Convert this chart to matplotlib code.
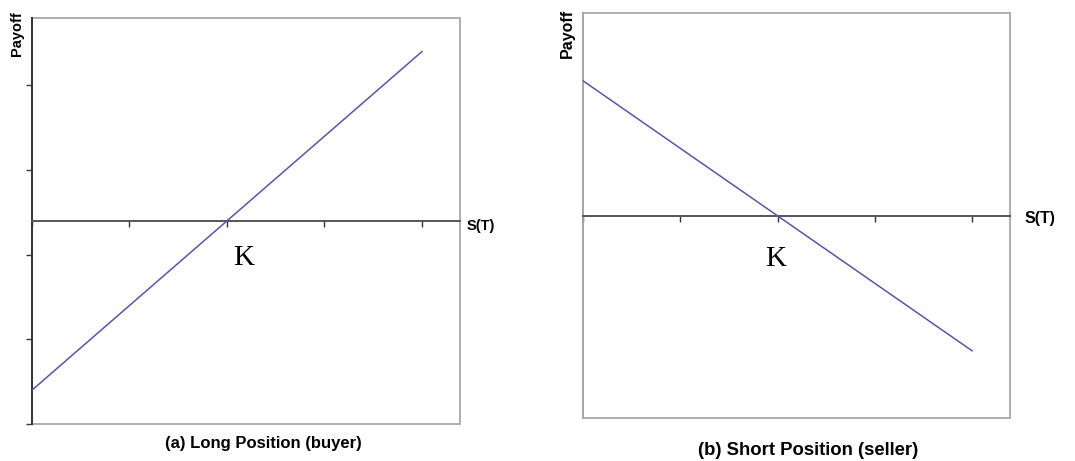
import matplotlib
matplotlib.use("Agg")
import matplotlib.pyplot as plt
from matplotlib.patches import Rectangle

# payoff diagrams for a forward contract, long vs short
strike = 2
spot = [0, 4]
long_payoff = [-2, 2]
short_payoff = [2, -2]
x_ticks = [0, 1, 2, 3, 4]
long_y_ticks = [-2.4, -1.4, -0.4, 0.6, 1.6]

line_col = "#5656a8"
W, H = 1075, 461

plt.rcParams['font.family'] = ['Liberation Sans', 'DejaVu Sans']
fig = plt.figure(figsize=(W / 100, H / 100), dpi=100)


def px_axes(left, top, right, bottom):
    # axes placed by pixel box
    return fig.add_axes([left / W, 1 - bottom / H, (right - left) / W, (bottom - top) / H])


def setup(ax, ylim):
    ax.set_xlim(0, 4.39)
    ax.set_ylim(*ylim)
    ax.spines['bottom'].set_position(('data', 0))
    ax.spines['bottom'].set_color("#555555")
    ax.spines['bottom'].set_linewidth(1.4)
    ax.spines['top'].set_visible(False)
    ax.spines['right'].set_visible(False)
    ax.add_patch(Rectangle((0, 0), 1, 1, transform=ax.transAxes, fill=False,
                           edgecolor="#a8a8a8", linewidth=1.3, clip_on=False, zorder=0))
    ax.set_xticks(x_ticks)
    ax.tick_params(axis='x', direction='out', length=4, width=1, color="#333333",
                   labelbottom=False)


# (a) long position
ax1 = px_axes(32, 17.7, 460, 424)
setup(ax1, (-2.4, 2.4))
ax1.plot(spot, long_payoff, color=line_col, lw=1.1, zorder=3)
ax1.set_yticks(long_y_ticks)
ax1.tick_params(axis='y', direction='out', length=4, width=1, color="#333333", labelleft=False)
ax1.spines['left'].set_color("#333333")
ax1.spines['left'].set_linewidth(1.4)
ax1.annotate("K", xy=(strike, 0), xytext=(17, -37), textcoords='offset pixels',
             ha='center', va='center', fontsize=21, family='Liberation Serif')
ax1.annotate("S(T)", xy=(1, 0), xycoords=('axes fraction', 'data'), xytext=(7, -5),
             textcoords='offset pixels', ha='left', va='center', fontsize=10.5, fontweight='bold')
fig.text(17 / W, 1 - 11 / H, "Payoff", rotation=90, ha='center', va='top',
         fontsize=10.5, fontweight='bold')
fig.text(263 / W, 1 - 443 / H, "(a) Long Position (buyer)", ha='center', va='center',
         fontsize=12, fontweight='bold')

# (b) short position
ax2 = px_axes(583, 13.3, 1010, 418.3)
setup(ax2, (-3, 3))
ax2.plot(spot, short_payoff, color=line_col, lw=1.1, zorder=3)
ax2.set_yticks([])
ax2.spines['left'].set_color("#a8a8a8")
ax2.spines['left'].set_linewidth(1.3)
ax2.annotate("K", xy=(strike, 0), xytext=(-2, -43), textcoords='offset pixels',
             ha='center', va='center', fontsize=21, family='Liberation Serif')
ax2.annotate("S(T)", xy=(1, 0), xycoords=('axes fraction', 'data'), xytext=(15, -3),
             textcoords='offset pixels', ha='left', va='center', fontsize=11.5, fontweight='bold')
fig.text(567 / W, 1 - 9 / H, "Payoff", rotation=90, ha='center', va='top',
         fontsize=11.5, fontweight='bold')
fig.text(808 / W, 1 - 450 / H, "(b) Short Position (seller)", ha='center', va='center',
         fontsize=13.3, fontweight='bold')

fig.savefig("out.png", dpi=100, facecolor='white')
